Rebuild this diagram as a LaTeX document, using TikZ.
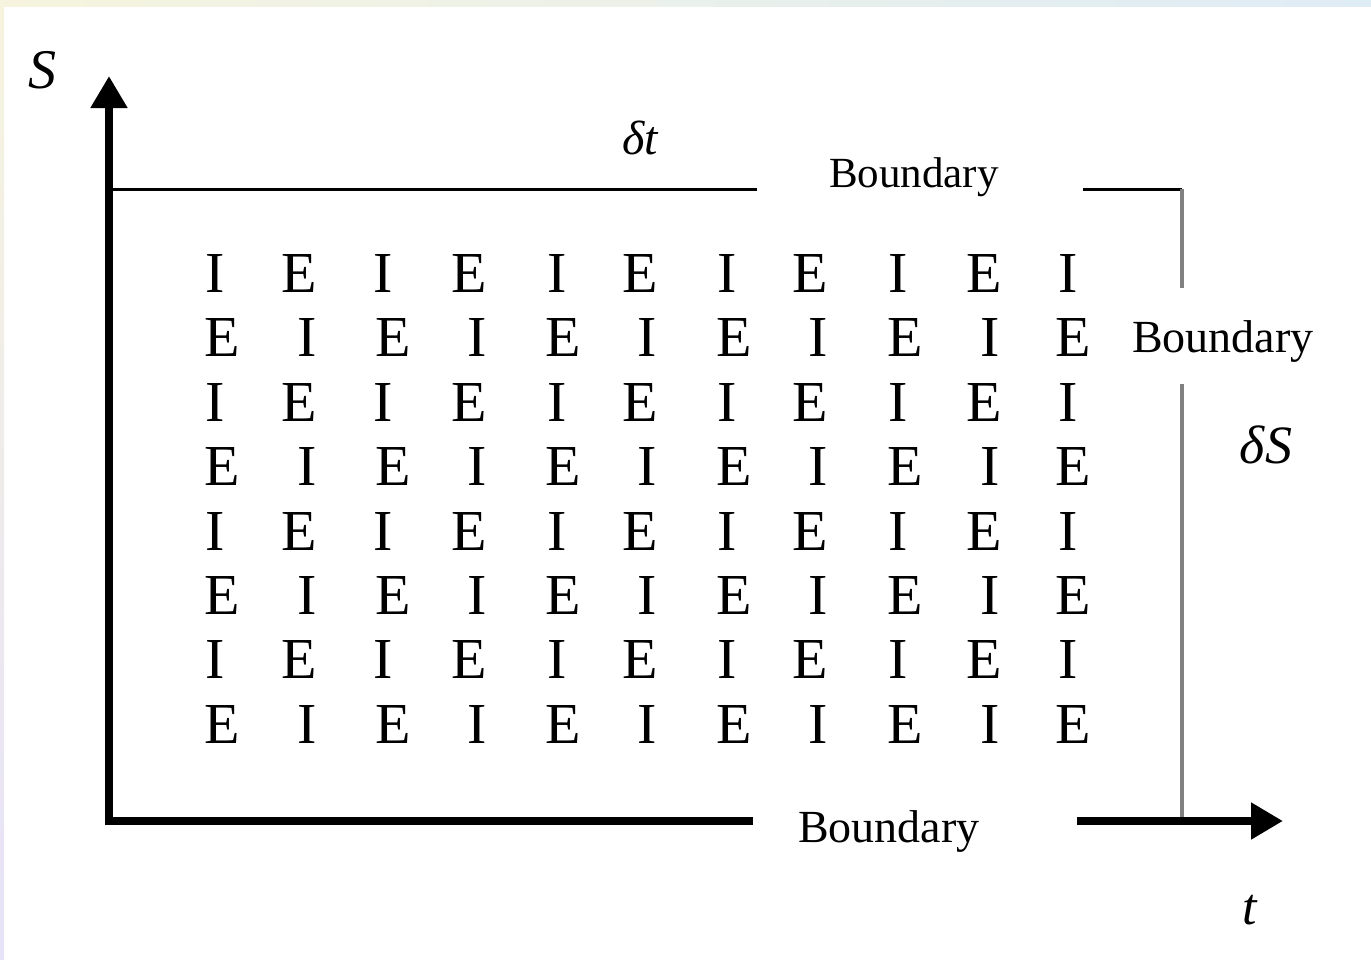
\documentclass[tikz,border=0pt]{standalone}
\usepackage{fontspec}
\setmainfont{Liberation Serif}
\usetikzlibrary{arrows.meta}

\definecolor{edgecream}{RGB}{246,244,222}
\definecolor{edgeblue}{RGB}{222,236,246}
\definecolor{edgelilac}{RGB}{230,226,248}
\definecolor{rulegray}{RGB}{128,128,128}

\begin{document}
\begin{tikzpicture}[x=1pt,y=-1pt,
  axisline/.style={line width=8pt,black},
  thinrule/.style={line width=3pt,black},
  grayrule/.style={line width=4pt,rulegray},
  gridletter/.style={inner sep=0pt,font=\fontsize{58}{58}\selectfont},
  boundlabel/.style={inner sep=0pt,anchor=base,font=\fontsize{46}{46}\selectfont},
  varlabel/.style={inner sep=0pt,font=\fontsize{52}{52}\selectfont\itshape},
  bigtip/.style={-{Triangle[length=32pt,width=35pt]}}]

\useasboundingbox (0,0) rectangle (1371,959);
\fill[white] (0,0) rectangle (1371,959);

% soft frame edges
\shade[left color=edgecream,right color=edgeblue] (0,0) rectangle (1371,6);
\shade[top color=edgecream,bottom color=edgelilac] (0,0) rectangle (4,959);

% axis coordinates
\coordinate (corner) at (109,825);
\coordinate (stip) at (109,76);
\coordinate (hstart) at (105,821);
\coordinate (hgapL) at (753,821);
\coordinate (hgapR) at (1077,821);
\coordinate (ttip) at (1283,821);

% top and right boundary rules
\coordinate (topL) at (109,189);
\coordinate (topgapL) at (757,189);
\coordinate (topgapR) at (1083,189);
\coordinate (topR) at (1182,189);
\coordinate (rgapT) at (1182,288);
\coordinate (rgapB) at (1182,384);
\coordinate (rbot) at (1182,821);

\draw[thinrule] (topL) -- (topgapL);
\draw[thinrule] (topgapR) -- (topR);
\draw[grayrule] (topR) -- (rgapT);
\draw[grayrule] (rgapB) -- (rbot);

% axes
\draw[axisline,bigtip] (corner) -- (stip);
\draw[axisline] (hstart) -- (hgapL);
\draw[axisline,bigtip] (hgapR) -- (ttip);

% labels
\node[varlabel,font=\fontsize{56}{56}\selectfont\itshape] (lblS) at (42,70) {S};
\node[varlabel,font=\fontsize{52}{52}\selectfont\itshape] (lblt) at (1250,910) {t};
\node[varlabel,font=\fontsize{48}{48}\selectfont\itshape] (lbldt) at (640,138) {δt};
\node[varlabel,font=\fontsize{54}{54}\selectfont\itshape] (lbldS) at (1266,445) {δS};

\node[boundlabel,font=\fontsize{43}{43}\selectfont] (btop) at (914,187) {Boundary};
\node[boundlabel] (bright) at (1223,352) {Boundary};
\node[boundlabel] (bbot) at (889,842) {Boundary};

% grid of explicit / implicit points
\def\colsA{215,299,383,469,557,640,727,810,898,984,1068}
\def\colsB{222,307,393,477,563,647,734,818,905,990,1073}
\foreach \r in {0,...,7}{
  \pgfmathsetmacro{\yy}{273.5+64.4*\r}
  \pgfmathtruncatemacro{\odd}{mod(\r,2)}
  \ifnum\odd=0
    \foreach \x [count=\c] in \colsA{
      \pgfmathtruncatemacro{\cc}{mod(\c,2)}
      \node[gridletter] (g-\r-\c) at (\x,\yy) {\ifnum\cc=1 I\else E\fi};
    }
  \else
    \foreach \x [count=\c] in \colsB{
      \pgfmathtruncatemacro{\cc}{mod(\c,2)}
      \node[gridletter] (g-\r-\c) at (\x,\yy) {\ifnum\cc=1 E\else I\fi};
    }
  \fi
}
\end{tikzpicture}
\end{document}
